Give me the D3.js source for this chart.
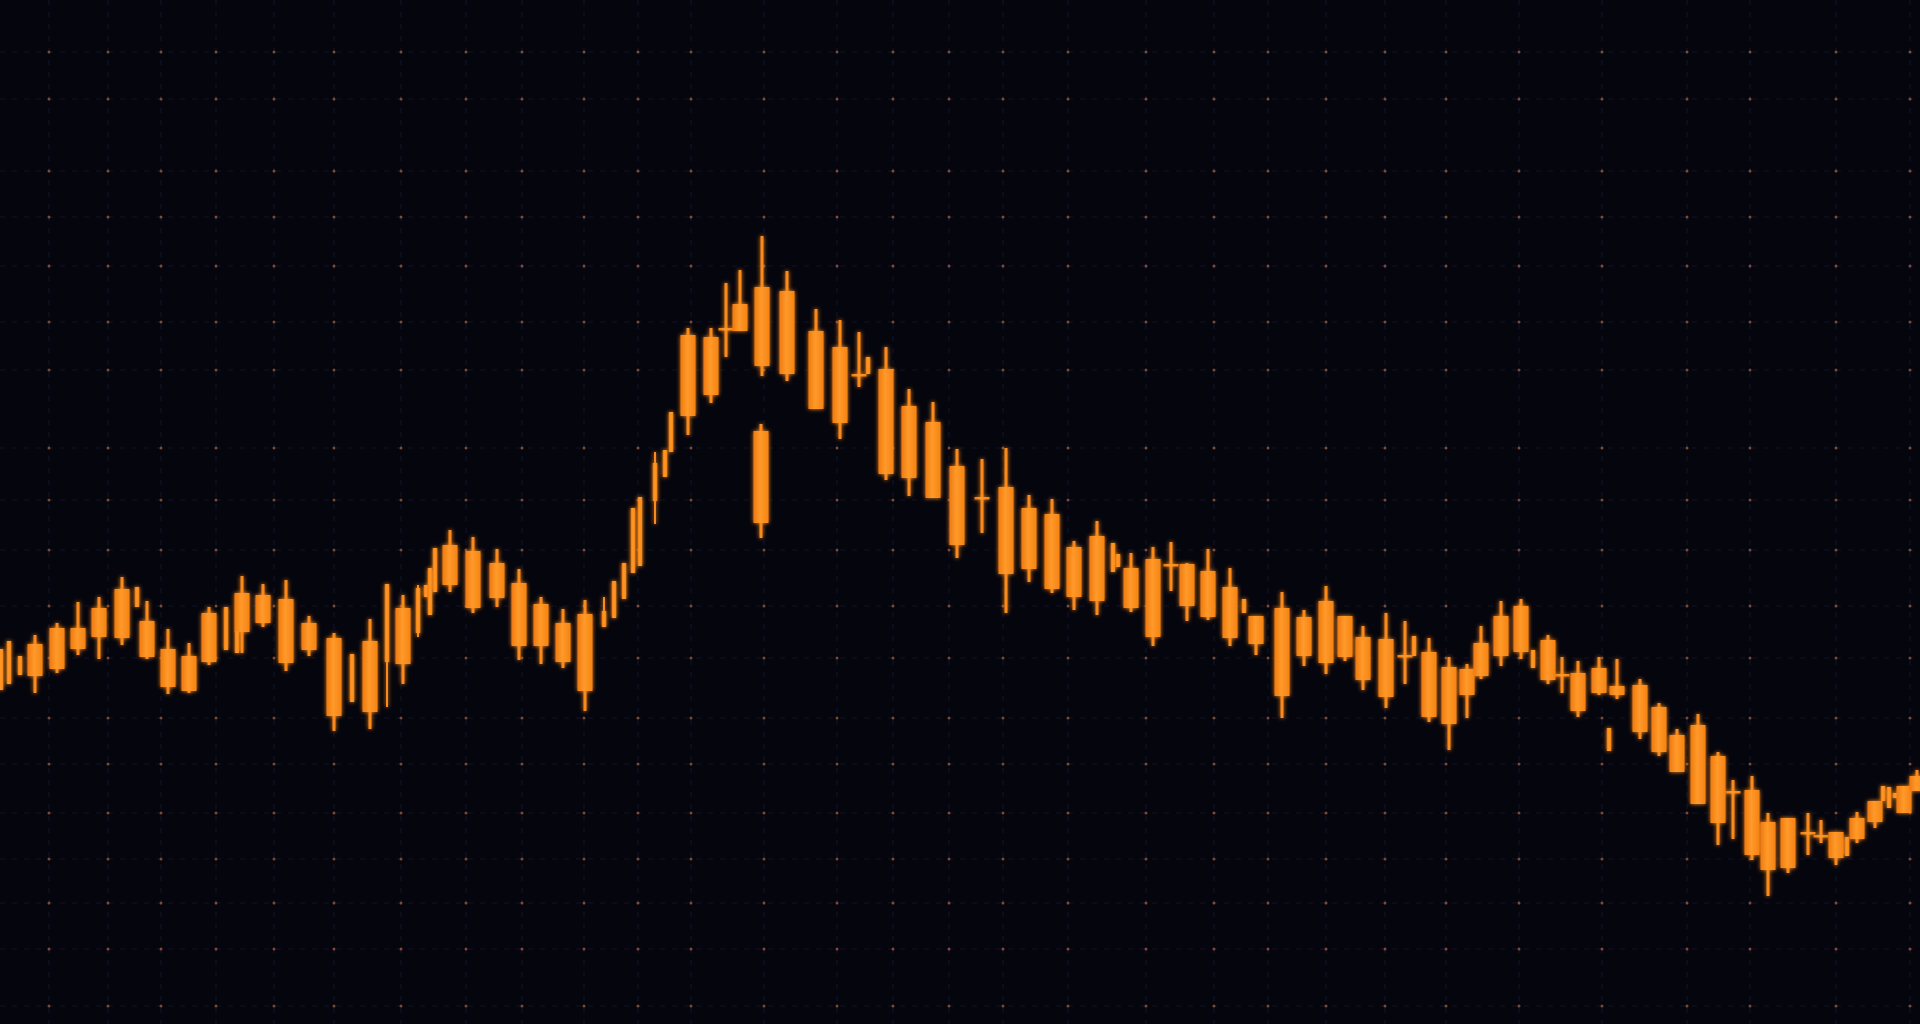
<!DOCTYPE html>
<html>
<head>
<meta charset="utf-8">
<script src="https://cdn.jsdelivr.net/npm/d3@7"></script>
<style>
  html, body { margin: 0; padding: 0; background: #05050e; overflow: hidden; }
  svg { display: block; }
</style>
</head>
<body>
<div id="chart"></div>
<script>
// ---------- DATA (time in trading-day units, prices) ----------
// Main candlesticks
const candleTime  = [3.5,5.7,7.8,9.9,12.2,14.7,16.8,18.9,20.9,24.2,26.3,28.6,30.9,33.4,37.0,40.3,45.0,47.3,49.7,51.9,54.1,56.3,58.5,
  68.8,71.1,72.6,74.0,76.2,76.1,78.7,81.6,84.0,85.9,88.6,90.9,93.3,95.7,98.2,100.6,102.9,105.2,107.4,109.7,113.1,115.3,117.1,118.7,120.8,123.0,125.6,
  128.2,130.4,132.6,134.5,136.3,138.6,140.5,142.9,144.9,146.7,148.1,150.1,152.1,154.8,156.2,157.8,159.9,161.7,164.0,165.9,167.7,169.8,171.8,173.3,
  175.2,176.8,178.8,180.8,182.1,183.6,185.7,187.5,190.4,191.7];
const candleOpen  = [132.4,133.1,135.1,136.3,136.2,137.9,135.1,130.9,133.8,136.8,137.7,140.1,135.0,136.2,128.8,133.6,141.5,144.9,140.2,141.7,139.6,133.8,130.9,
  158.4,160.5,167.2,166.9,163.4,156.9,170.9,166.9,165.3,162.6,163.1,159.4,157.8,153.4,150.3,151.3,149.2,148.6,145.3,146.4,143.2,144.1,143.6,143.6,142.9,141.3,138.4,
  139.2,138.3,139.9,138.4,136.3,136.1,134.5,134.8,133.3,133.1,132.4,134.4,134.8,136.0,132.6,132.7,133.2,131.4,131.5,129.3,126.5,127.5,124.4,120.9,
  121.0,117.8,118.2,116.8,116.5,114.2,116.1,117.8,118.7,120.9];
const candleHigh  = [136.5,137.7,139.8,140.3,142.3,139.9,137.1,135.7,139.3,142.4,141.6,142.0,138.4,136.7,138.1,140.5,147.0,146.3,145.1,143.1,140.3,139.1,140.0,
  167.2,167.2,171.7,173.0,176.4,157.6,172.9,169.1,168.0,166.8,165.3,161.1,159.8,155.1,154.1,155.2,150.5,150.1,145.9,147.9,144.7,145.3,145.8,143.7,145.1,143.2,138.4,
  140.8,139.0,141.4,138.4,137.4,138.7,137.9,136.2,134.3,133.6,137.4,139.9,140.1,136.5,134.3,133.9,134.3,134.1,132.1,129.7,127.1,128.6,124.8,122.0,
  122.4,118.7,118.2,118.7,118.0,116.8,118.8,119.9,121.4,123.0];
const candleLow   = [130.7,132.7,134.5,134.1,135.5,134.1,130.6,130.7,133.5,134.7,137.3,132.9,134.4,126.9,127.1,131.6,140.8,138.7,139.3,134.0,133.6,133.2,128.9,
  156.5,159.7,164.3,166.9,162.4,146.2,161.9,159.1,156.1,161.3,152.0,150.4,150.2,144.2,146.7,138.7,141.8,140.7,139.0,138.5,138.8,135.4,140.9,137.9,138.0,135.4,134.5,
  128.2,133.4,132.6,133.9,131.0,129.2,131.6,127.8,125.0,128.2,132.1,133.4,134.1,131.6,130.7,128.3,130.5,130.1,126.1,124.4,122.8,119.6,115.5,116.1,
  114.0,110.4,112.7,114.5,115.7,113.5,115.7,117.2,118.7,120.9];
const candleClose = [135.6,137.2,137.2,139.2,141.1,134.3,131.3,134.4,138.7,140.7,140.5,133.7,137.7,128.4,135.9,139.2,145.5,139.2,143.7,135.4,135.4,137.7,138.6,
  166.5,166.3,167.0,169.6,171.3,147.7,162.6,159.1,157.7,162.5,152.6,152.2,150.2,145.5,150.1,142.6,143.1,141.1,140.3,139.9,139.2,136.3,143.4,139.4,138.3,136.2,135.6,
  130.4,134.4,133.7,134.3,132.0,130.3,134.3,128.3,127.6,130.5,135.7,138.4,139.4,132.0,132.4,128.9,130.7,130.5,126.8,124.8,122.8,119.6,117.7,120.7,
  114.5,113.0,113.2,116.6,116.3,116.8,118.2,119.9,121.4,122.4];

// Narrow (thin) candlesticks
const thinTime  = [0.1,0.9,2.0,13.7,22.6,23.7,35.2,38.7,41.8,42.6,43.0,43.5,60.4,61.4,62.4,63.3,64.0,65.5,66.5,67.1,86.8,111.3,111.8,124.4,141.4,153.3,160.9,184.7,188.3,188.9,189.5];
const thinOpen  = [131.0,131.6,132.5,139.3,135.0,134.7,129.8,133.8,136.7,140.3,138.5,140.8,137.3,138.2,140.1,142.7,143.4,149.9,152.3,154.8,162.6,142.8,143.3,138.7,134.4,133.2,124.9,114.4,119.9,119.2,120.2];
const thinHigh  = [135.1,135.9,134.4,141.3,139.3,136.9,134.6,141.6,141.5,141.5,143.2,145.2,140.3,141.9,143.7,149.2,150.3,154.8,155.0,158.8,164.3,145.7,144.6,140.1,136.4,135.0,127.2,116.3,121.4,121.3,120.7];
const thinLow   = [131.0,131.6,132.5,139.3,135.0,134.7,129.8,129.3,136.3,140.3,138.5,140.8,137.3,138.2,140.1,142.7,143.4,147.6,152.3,154.8,162.6,142.8,143.3,138.7,134.4,133.2,124.9,114.4,119.9,119.2,120.2];
const thinClose = [135.1,135.9,134.4,141.3,139.3,136.9,134.6,141.6,141.2,141.5,143.2,145.2,138.9,141.9,143.7,149.2,150.3,153.7,155.0,158.8,164.3,145.7,144.6,140.1,136.4,135.0,127.2,116.3,121.4,121.3,120.7];

// Grid ticks
const gridTimes  = [4.9,10.8,16.1,21.6,27.4,33.4,40.1,46.6,52.2,58.4,63.8,69.1,76.4,83.7,89.3,94.9,100.3,106.8,114.6,121.4,126.8,132.6,138.5,144.6,151.9,160.2,168.7,175.0,183.6,191.0];
const gridPrices = [194.8,190.1,182.9,178.3,173.4,167.8,163.0,155.2,150.0,145.0,139.4,134.2,128.2,123.6,118.7,114.1,109.7,105.1,99.4];

// ---------- CHART ----------
const W = 1920, H = 1024;
const svg = d3.select("#chart").append("svg").attr("width", W).attr("height", H);
svg.append("rect").attr("width", W).attr("height", H).attr("fill", "#05050e");

const x = d3.scaleLinear().domain([0, 192]).range([0, W]);
const y = d3.scaleLinear().domain([97.6, 200]).range([H, 0]);

const defs = svg.append("defs");
const glow = defs.append("filter").attr("id", "glow").attr("x", "-50%").attr("y", "-50%").attr("width", "200%").attr("height", "200%");
glow.append("feGaussianBlur").attr("stdDeviation", 2.2).attr("result", "b");
const merge = glow.append("feMerge");
merge.append("feMergeNode").attr("in", "b");
merge.append("feMergeNode").attr("in", "SourceGraphic");

const grad = defs.append("linearGradient").attr("id", "body").attr("x1", "0").attr("x2", "1").attr("y1", "0").attr("y2", "0");
grad.append("stop").attr("offset", "0%").attr("stop-color", "#f07a10");
grad.append("stop").attr("offset", "45%").attr("stop-color", "#ff9a2a");
grad.append("stop").attr("offset", "100%").attr("stop-color", "#f58312");

// grid lines
const grid = svg.append("g");
grid.selectAll("line.v").data(gridTimes).join("line")
  .attr("x1", d => x(d)).attr("x2", d => x(d)).attr("y1", 0).attr("y2", H)
  .attr("stroke", "#15162a").attr("stroke-width", 1).attr("stroke-dasharray", "5,7");
grid.selectAll("line.h").data(gridPrices).join("line")
  .attr("x1", 0).attr("x2", W).attr("y1", d => y(d)).attr("y2", d => y(d))
  .attr("stroke", "#121325").attr("stroke-width", 1).attr("stroke-dasharray", "5,7");
const pts = [];
gridTimes.forEach(t => gridPrices.forEach(p => pts.push([t, p])));
grid.selectAll("circle").data(pts).join("circle")
  .attr("cx", d => x(d[0])).attr("cy", d => y(d[1])).attr("r", 1.5)
  .attr("fill", "#a5603f").attr("opacity", 0.75);

// candles
const main = candleTime.map((t, i) => ({t, o: candleOpen[i], h: candleHigh[i], l: candleLow[i], c: candleClose[i]}));
const thin = thinTime.map((t, i) => ({t, o: thinOpen[i], h: thinHigh[i], l: thinLow[i], c: thinClose[i]}));

const cg = svg.append("g").attr("filter", "url(#glow)");

function draw(data, bodyW, wickW, cls) {
  const g = cg.append("g").attr("class", cls);
  g.selectAll("rect.w").data(data).join("rect").attr("class", "w")
    .attr("x", d => x(d.t) - wickW / 2).attr("width", wickW)
    .attr("y", d => y(d.h)).attr("height", d => Math.max(1, y(d.l) - y(d.h)))
    .attr("fill", "#fb8a1c");
  g.selectAll("rect.b").data(data).join("rect").attr("class", "b")
    .attr("x", d => x(d.t) - bodyW / 2).attr("width", bodyW)
    .attr("y", d => y(Math.max(d.o, d.c)))
    .attr("height", d => Math.max(2.5, Math.abs(y(d.o) - y(d.c))))
    .attr("fill", "url(#body)");
}
draw(main, 15, 3, "main");
draw(thin, 4.5, 2, "thin");
</script>
</body>
</html>
